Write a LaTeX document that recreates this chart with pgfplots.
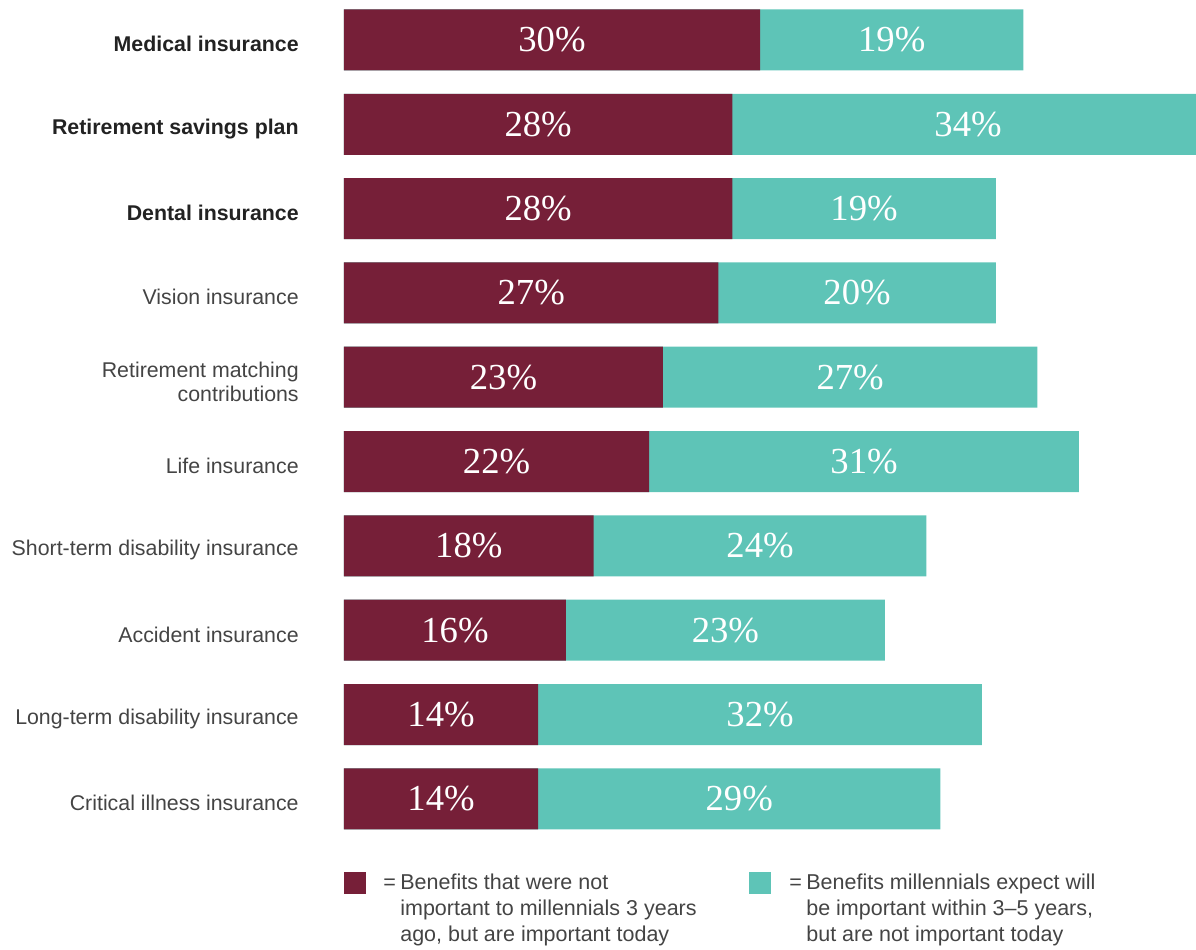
\documentclass[border=0pt]{standalone}
\usepackage{pgfplots}
\pgfplotsset{compat=1.18}
\usepackage{pgfplotstable}
\usepackage{fontspec}
\setmainfont{Liberation Sans}
\newfontfamily\numfont{Liberation Serif}

\definecolor{maroon}{RGB}{118,31,56}
\definecolor{teal}{RGB}{94,196,183}
\definecolor{labelgray}{RGB}{68,68,68}
\definecolor{labeldark}{RGB}{34,34,34}

% idx: row from top, a: important today, b: important in 3-5 years
\pgfplotstableread{
idx a b
0 30 19
1 28 34
2 28 19
3 27 20
4 23 27
5 22 31
6 18 24
7 16 23
8 14 32
9 14 29
}\benefits

\begin{document}
\begin{tikzpicture}
\path[use as bounding box] (0,0) rectangle (717.6pt,570pt);
\begin{axis}[
  at={(206.4pt,65.4pt)}, anchor=south west,
  scale only axis,
  width=511.2pt, height=504.6pt,
  xmin=0, xmax=61.44,
  ymin=-0.474, ymax=9.5,
  y dir=reverse,
  axis line style={draw=none},
  tick style={draw=none},
  xtick=\empty,
  ytick={0,...,9},
  yticklabels={
    \textbf{\color{labeldark}Medical insurance},
    \textbf{\color{labeldark}Retirement savings plan},
    \textbf{\color{labeldark}Dental insurance},
    Vision insurance,
    Retirement matching\\contributions,
    Life insurance,
    Short-term disability insurance,
    Accident insurance,
    Long-term disability insurance,
    Critical illness insurance},
  yticklabel style={align=right, anchor=east, inner sep=0pt, xshift=-27pt, yshift=-2.6pt,
    text=labelgray, font=\fontsize{12.8}{14.4}\selectfont},
]
% teal bars run to a+b, maroon bars drawn over them up to a
\addplot[xbar, bar width=36.6pt, fill=teal, draw=none]
  table[x expr=\thisrow{a}+\thisrow{b}, y=idx] {\benefits};
\addplot[xbar, bar width=36.6pt, fill=maroon, draw=none]
  table[x=a, y=idx] {\benefits};
\end{axis}
\begin{axis}[
  at={(206.4pt,65.4pt)}, anchor=south west,
  scale only axis,
  width=511.2pt, height=504.6pt,
  xmin=0, xmax=61.44,
  ymin=-0.474, ymax=9.5,
  y dir=reverse, hide axis, clip=false,
  /pgf/number format/assume math mode=true,
  every node near coord/.style={anchor=center, text=white, inner sep=0pt,
    font=\numfont\fontsize{22}{26}\selectfont},
]
% value labels centred in each segment
\addplot[draw=none, mark=none, nodes near coords={\pgfmathprintnumber{\pgfplotspointmeta}\%},
  point meta=\thisrow{a}]
  table[x expr=\thisrow{a}/2, y=idx] {\benefits};
\addplot[draw=none, mark=none, nodes near coords={\pgfmathprintnumber{\pgfplotspointmeta}\%},
  point meta=\thisrow{b}]
  table[x expr=\thisrow{a}+\thisrow{b}/2, y=idx] {\benefits};
\end{axis}

% legend
\fill[maroon] (206.4pt,33.6pt) rectangle (219.6pt,46.8pt);
\fill[teal] (449.4pt,33.6pt) rectangle (462.6pt,46.8pt);
\begin{scope}[every node/.style={anchor=base west, inner sep=0pt, text=labelgray,
    font=\fontsize{12.9}{15.6}\selectfont}]
\node at (229.8pt,36pt) {=};
\node at (240pt,36pt) {Benefits that were not};
\node at (240pt,20.4pt) {important to millennials 3 years};
\node at (240pt,4.8pt) {ago, but are important today};
\node at (473.4pt,36pt) {=};
\node at (483.6pt,36pt) {Benefits millennials expect will};
\node at (483.6pt,20.4pt) {be important within 3–5 years,};
\node at (483.6pt,4.8pt) {but are not important today};
\end{scope}
\end{tikzpicture}
\end{document}
